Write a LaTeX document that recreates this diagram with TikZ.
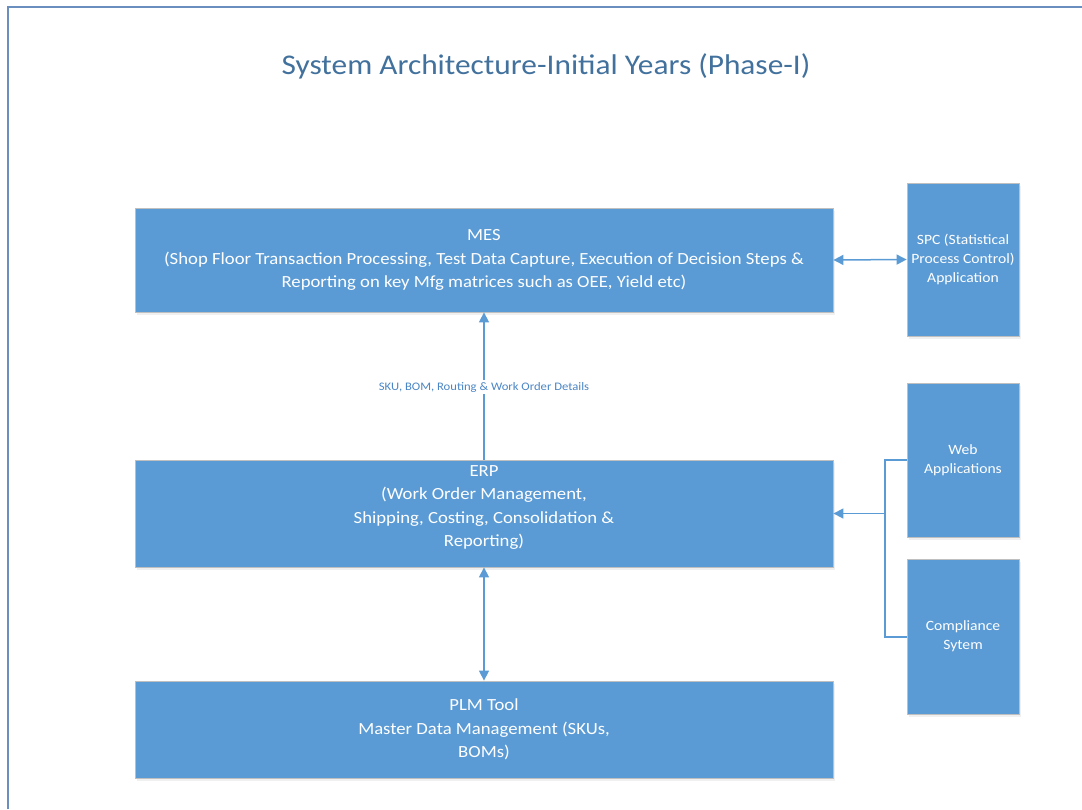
\documentclass[tikz,border=0pt]{standalone}
\usepackage{fontspec}
\setmainfont{Carlito}[FakeStretch=1.1]
\usetikzlibrary{arrows.meta,shadows}
\definecolor{boxblue}{HTML}{5B9BD5}
\definecolor{boxedge}{HTML}{BFBFBF}
\definecolor{titleblue}{HTML}{41719C}
\definecolor{labelblue}{HTML}{4A86C5}
\definecolor{framecol}{HTML}{6A8FBF}
\tikzset{
  sysbox/.style={rectangle, fill=boxblue, draw=boxedge, line width=0.8pt,
    text=white, align=center, inner sep=2pt,
    drop shadow={opacity=0.12, shadow xshift=1.5pt, shadow yshift=-2.5pt}},
  widebox/.style={sysbox, minimum width=698pt, font=\fontsize{17}{23.5}\selectfont},
  sidebox/.style={sysbox, minimum width=112pt, font=\fontsize{14.2}{19}\selectfont},
  link/.style={draw=boxblue, line width=1.5pt},
  tip/.style={-{Triangle[length=10pt,width=10pt]}},
  bitip/.style={{Triangle[length=10pt,width=10pt]}-{Triangle[length=10pt,width=10pt]}},
  flowlabel/.style={fill=white, text=labelblue, inner sep=2pt,
    font=\fontsize{11.5}{13}\selectfont},
  frameline/.style={draw=framecol, line width=1.5pt}
}
\begin{document}
\begin{tikzpicture}[x=1pt, y=-1pt]
  \useasboundingbox (0,0) rectangle (1082,809);
  % page frame
  \draw[frameline] (8,809) -- (8,7) -- (1082,7);

  % title
  \node[text=titleblue, font=\fontsize{28.5}{32}\selectfont] (title) at (546,66)
    {System Architecture-Initial Years (Phase-I)};

  % main systems
  \node[widebox, minimum height=104pt] (mes) at (484,260)
    {MES\\(Shop Floor Transaction Processing, Test Data Capture, Execution of Decision Steps \&\\Reporting on key Mfg matrices such as OEE, Yield etc)};
  \node[widebox, minimum height=107pt, text depth=15pt] (erp) at (484,513.5)
    {ERP\\(Work Order Management,\\Shipping, Costing, Consolidation \&\\Reporting)};
  \node[widebox, minimum height=97pt] (plm) at (484,729.5)
    {PLM Tool\\Master Data Management (SKUs,\\BOMs)};

  % side applications
  \node[sidebox, minimum height=153pt] (spc) at (963,259.5)
    {SPC (Statistical\\Process Control)\\Application};
  \node[sidebox, minimum height=154pt] (web) at (963,460)
    {Web\\Applications};
  \node[sidebox, minimum height=155pt] (comp) at (963,636.5)
    {Compliance\\Sytem};

  % connectors
  \draw[link, tip] (erp.north) -- (mes.south)
    node[flowlabel, pos=0.49] (flow) {SKU, BOM, Routing \& Work Order Details};
  \draw[link, bitip] (erp.south) -- (plm.north);
  \draw[link, bitip] (mes.east) -- (spc.west);

  % bracket joining web and compliance into ERP
  \coordinate (jtop) at (885,460);
  \coordinate (jbot) at (885,637);
  \coordinate (jmid) at (885,513.5);
  \draw[link, line width=1.2pt] (web.west |- jtop) -- (jtop) -- (jbot) -- (comp.west |- jbot);
  \draw[link, tip] (jmid) -- (erp.east);
\end{tikzpicture}
\end{document}
